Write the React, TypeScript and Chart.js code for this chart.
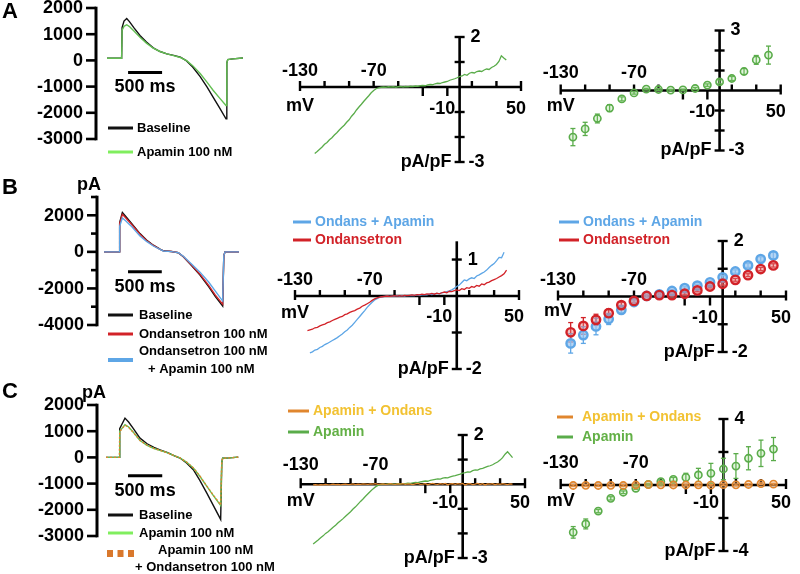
import React, { useEffect, useRef } from "react";
import { Chart, registerables } from "chart.js";
Chart.register(...registerables);

const W = 800;
const H = 574;
const FONT = '"Liberation Sans", Arial, Helvetica, sans-serif';

// ---------------- data ----------------
// current traces (time in ms, current in pA)
const TRACE_A_T = [0, 215, 222, 250, 290, 330, 400, 485, 580, 680, 780, 880, 980, 1080, 1170, 1260, 1370, 1470, 1560, 1660, 1750, 1762, 1775, 1850, 2000];
const TRACE_A_BASELINE = [80, 80, 1250, 1500, 1600, 1480, 1230, 950, 700, 480, 340, 250, 190, 120, -20, -250, -620, -1010, -1400, -1830, -2230, -100, 30, 60, 90];
const TRACE_A_APAMIN = [80, 80, 1150, 1300, 1360, 1290, 1110, 880, 660, 470, 340, 250, 180, 110, -10, -200, -500, -830, -1140, -1450, -1720, -100, 30, 60, 90];

const TRACE_B_T = [0, 227, 232, 272, 320, 400, 533, 630, 731, 830, 879, 1000, 1100, 1175, 1300, 1422, 1550, 1650, 1758, 1775, 1793, 2000];
const TRACE_B_BASELINE = [0, 0, 1600, 2150, 1950, 1600, 1000, 650, 364, 150, 60, 20, -50, -270, -760, -1270, -1900, -2450, -2960, -200, 0, 0];
const TRACE_B_ONDANSETRON = [0, 0, 1550, 2050, 1870, 1540, 960, 620, 350, 140, 55, 20, -45, -255, -730, -1220, -1830, -2370, -2860, -200, 0, 0];
const TRACE_B_ONDANS_APAMIN = [0, 0, 1400, 1850, 1700, 1420, 870, 570, 320, 130, 50, 15, -40, -240, -680, -1110, -1650, -2150, -2690, -200, 0, 0];

const TRACE_C_T = [0, 195, 200, 277, 330, 400, 496, 600, 700, 788, 900, 1000, 1080, 1180, 1275, 1370, 1470, 1570, 1674, 1690, 1703, 1800, 1931];
const TRACE_C_BASELINE = [0, 0, 1100, 1500, 1350, 1100, 734, 520, 380, 290, 180, 60, -25, -220, -470, -880, -1354, -1850, -2367, -200, -30, -20, 10];
const TRACE_C_APAMIN = [0, 0, 1000, 1250, 1160, 960, 645, 460, 340, 266, 170, 60, -20, -190, -405, -720, -1100, -1470, -1835, -200, -30, -20, 10];
const TRACE_C_APAMIN_ONDANS = [0, 0, 980, 1230, 1150, 950, 650, 465, 345, 270, 172, 62, -18, -185, -400, -710, -1090, -1450, -1810, -200, -30, -20, 10];

const TRACE_A_YTICKS = [2000, 1000, 0, -1000, -2000, -3000];
const TRACE_B_YTICKS = [2000, 0, -2000, -4000];
const TRACE_B_YMINOR = [3000, 1000, -1000, -3000];
const TRACE_C_YTICKS = [2000, 1000, 0, -1000, -2000, -3000];
const SCALE_BAR_MS = 500;

// ramp I-V traces (mV, pA/pF)
const RAMP_MV = [-120, -118, -116, -114, -112, -110, -108, -106, -104, -102, -100, -98, -96, -94, -92, -90, -88, -86, -84, -82, -80, -78, -76, -74, -72, -70, -68, -66, -64, -62, -60, -58, -56, -54, -52, -50, -48, -46, -44, -42, -40, -38, -36, -34, -32, -30, -28, -26, -24, -22, -20, -18, -16, -14, -12, -10, -8, -6, -4, -2, 0, 2, 4, 6, 8, 10, 12, 14, 16, 18, 20, 22, 24, 26, 28, 30, 32, 34, 36, 38, 40];

const RAMP_A_APAMIN = [null,
  -2.66, -2.58, -2.49, -2.40, -2.29, -2.22, -2.11, -2.03, -1.92, -1.83,
  -1.72, -1.62, -1.53, -1.41, -1.31, -1.17, -1.06, -0.92, -0.80, -0.69,
  -0.57, -0.46, -0.35, -0.23, -0.14, -0.07, -0.03, -0.01, 0.00, -0.01,
  0.01, 0.00, 0.01, -0.01, 0.01, 0.02, 0.00, 0.02, 0.01, 0.03,
  0.02, 0.04, 0.03, 0.05, 0.06, 0.05, 0.08, 0.10, 0.09, 0.13,
  0.15, 0.14, 0.18, 0.20, 0.22, 0.27, 0.30, 0.33, 0.37, 0.42,
  0.44, 0.50, 0.47, 0.55, 0.58, 0.56, 0.62, 0.64, 0.62, 0.68,
  0.72, 0.70, 0.78, 0.83, 0.90, 1.02, 1.25, 1.16, 1.08,
  null];

const RAMP_B_ONDANS_APAMIN = [null,
  -1.56, -1.53, -1.48, -1.46, -1.41, -1.38, -1.33, -1.30, -1.26, -1.22,
  -1.18, -1.14, -1.09, -1.04, -0.98, -0.93, -0.86, -0.80, -0.72, -0.64,
  -0.56, -0.48, -0.40, -0.31, -0.24, -0.17, -0.11, -0.07, -0.04, -0.02,
  -0.01, 0.00, -0.01, 0.00, 0.00, 0.01, 0.00, 0.01, 0.00, 0.02,
  0.01, 0.02, 0.01, 0.03, 0.02, 0.03, 0.04, 0.03, 0.05, 0.04,
  0.06, 0.07, 0.06, 0.09, 0.10, 0.12, 0.14, 0.17, 0.21, 0.26,
  0.30, 0.37, 0.44, 0.42, 0.47, 0.50, 0.48, 0.55, 0.58, 0.62,
  0.66, 0.71, 0.78, 0.84, 0.89, 0.97, 1.06, 1.05, 1.20,
  null];

const RAMP_B_ONDANSETRON = [
  -0.95, -0.93, -0.91, -0.87, -0.86, -0.82, -0.79, -0.77, -0.73, -0.71, -0.67,
  -0.64, -0.61, -0.58, -0.56, -0.51, -0.49, -0.45, -0.42, -0.40, -0.36,
  -0.33, -0.28, -0.25, -0.21, -0.17, -0.12, -0.08, -0.05, -0.03, -0.02,
  -0.01, 0.00, -0.01, 0.00, 0.01, 0.00, 0.01, 0.00, 0.02, 0.01,
  0.02, 0.03, 0.02, 0.04, 0.03, 0.05, 0.04, 0.06, 0.05, 0.07,
  0.05, 0.08, 0.06, 0.09, 0.11, 0.09, 0.13, 0.12, 0.15, 0.17,
  0.15, 0.20, 0.18, 0.23, 0.21, 0.26, 0.24, 0.29, 0.27, 0.33,
  0.31, 0.36, 0.38, 0.42, 0.45, 0.48, 0.52, 0.56, 0.61, 0.71];

const RAMP_C_APAMIN = [
  -2.43, -2.35, -2.27, -2.18, -2.10, -2.00, -1.93, -1.84, -1.75, -1.67, -1.57,
  -1.49, -1.40, -1.30, -1.21, -1.12, -1.01, -0.92, -0.81, -0.70, -0.60,
  -0.49, -0.39, -0.29, -0.19, -0.11, -0.05, -0.02, 0.00, -0.01, 0.01,
  0.00, 0.01, 0.00, 0.02, 0.01, 0.02, 0.02, 0.04, 0.03, 0.05,
  0.07, 0.06, 0.09, 0.11, 0.13, 0.12, 0.16, 0.18, 0.20, 0.22,
  0.21, 0.25, 0.27, 0.26, 0.30, 0.33, 0.35, 0.38, 0.41, 0.45,
  0.47, 0.50, 0.49, 0.55, 0.58, 0.57, 0.62, 0.64, 0.68, 0.72,
  0.75, 0.79, 0.85, 0.90, 0.98, 1.08, 1.22, 1.32, 1.20, 1.08];

const RAMP_C_APAMIN_ONDANS = [
  -0.03, -0.02, -0.04, -0.02, -0.03, -0.01, -0.03, -0.02, 0.00, -0.02, -0.01,
  -0.03, -0.01, 0.00, -0.02, -0.01, 0.01, -0.02, 0.00, -0.01, 0.01,
  0.00, -0.01, 0.01, 0.00, 0.02, -0.01, 0.00, 0.01, -0.01, 0.00,
  0.02, 0.00, -0.01, 0.01, 0.00, 0.02, -0.01, 0.01, 0.00, -0.02,
  0.01, 0.03, -0.01, 0.00, 0.02, -0.02, 0.01, 0.03, 0.00, -0.01,
  0.02, 0.00, 0.03, -0.02, 0.01, 0.02, -0.01, 0.02, 0.00, 0.03,
  -0.03, 0.01, 0.02, -0.02, 0.00, 0.03, -0.01, 0.02, -0.03, 0.01,
  0.00, 0.02, -0.02, 0.01, -0.01, 0.02, 0.00, -0.02, 0.01, 0.00];

// step I-V (mean ± SEM)
const STEP_MV = [-120, -110, -100, -90, -80, -70, -60, -50, -40, -30, -20, -10, 0, 10, 20, 30, 40];
const STEP_A_APAMIN = [-2.33, -1.92, -1.40, -0.88, -0.42, -0.12, 0.07, 0.05, 0.02, 0.03, 0.10, 0.27, 0.43, 0.60, 0.95, 1.53, 1.77];
const STEP_A_APAMIN_SEM = [0.43, 0.33, 0.22, 0.17, 0.10, 0.06, 0.04, 0.04, 0.04, 0.04, 0.05, 0.06, 0.10, 0.10, 0.15, 0.22, 0.45];
const STEP_B_ONDANS_APAMIN = [-1.69, -1.39, -1.08, -0.81, -0.48, -0.20, 0.02, 0.08, 0.20, 0.30, 0.39, 0.51, 0.69, 0.90, 1.12, 1.35, 1.48];
const STEP_B_ONDANS_APAMIN_SEM = [0.35, 0.30, 0.30, 0.20, 0.12, 0.08, 0.05, 0.05, 0.05, 0.05, 0.05, 0.05, 0.06, 0.06, 0.07, 0.08, 0.13];
const STEP_B_ONDANSETRON = [-1.29, -1.06, -0.84, -0.60, -0.31, -0.16, 0.02, 0.05, 0.05, 0.10, 0.22, 0.36, 0.46, 0.60, 0.77, 0.99, 1.12];
const STEP_B_ONDANSETRON_SEM = [0.35, 0.30, 0.20, 0.15, 0.10, 0.06, 0.04, 0.04, 0.04, 0.04, 0.05, 0.05, 0.05, 0.05, 0.05, 0.06, 0.06];
const STEP_C_APAMIN = [-2.87, -2.36, -1.58, -0.81, -0.44, -0.20, 0.04, 0.20, 0.34, 0.46, 0.61, 0.71, 0.97, 1.15, 1.62, 1.92, 2.18];
const STEP_C_APAMIN_SEM = [0.35, 0.30, 0.10, 0.10, 0.08, 0.06, 0.05, 0.08, 0.12, 0.25, 0.40, 0.60, 0.65, 0.75, 0.70, 0.80, 0.70];
const STEP_C_APAMIN_ONDANS = [-0.03, -0.02, -0.03, -0.02, -0.03, 0.00, 0.02, 0.01, 0.00, 0.00, 0.01, -0.01, 0.02, 0.01, 0.03, 0.08, 0.05];
const STEP_C_APAMIN_ONDANS_SEM = [0.05, 0.05, 0.05, 0.05, 0.05, 0.05, 0.05, 0.05, 0.05, 0.05, 0.05, 0.05, 0.05, 0.05, 0.05, 0.05, 0.05];

const IV_X_TICKS = [-130, -110, -90, -70, -50, -30, -10, 10, 30, 50];
const IV_X_LABELS = [-130, -70, -10, 50];
const IV_X_UNIT = "mV";
const IV_Y_UNIT = "pA/pF";
const TRACE_Y_UNIT = "pA";

const LBL_BASELINE = "Baseline";
const LBL_APAMIN_100 = "Apamin 100 nM";
const LBL_ONDANSETRON_100 = "Ondansetron 100 nM";
const LBL_PLUS_APAMIN_100 = "+ Apamin 100 nM";
const LBL_PLUS_ONDANSETRON_100 = "+ Ondansetron 100 nM";
const LBL_ONDANS_APAMIN = "Ondans + Apamin";
const LBL_ONDANSETRON = "Ondansetron";
const LBL_APAMIN_ONDANS = "Apamin + Ondans";
const LBL_APAMIN = "Apamin";

// ---------------- colours ----------------
const BLACK = "#111111";
const GREEN_TRACE = "#63bf52";
const GREEN_LEGEND = "#80ee5e";
const GREEN_IV = "#5aac4a";
const GREEN_TEXT = "#63b046";
const BLUE = "#5ea6e6";
const RED = "#d22228";
const ORANGE = "#e0862e";
const GOLD = "#f2c232";

// ---------------- helpers ----------------
const zip = (xs: number[], ys: (number | null)[]) => xs.map((x, i) => ({ x, y: ys[i] }));

function txt(ctx: CanvasRenderingContext2D, s: string, x: number, y: number, size: number, align: CanvasTextAlign = "left", color = "#000") {
  ctx.save();
  ctx.font = `bold ${size}px ${FONT}`;
  ctx.fillStyle = color;
  ctx.textAlign = align;
  ctx.textBaseline = "middle";
  ctx.fillText(s, x, y);
  ctx.restore();
}

function seg(ctx: CanvasRenderingContext2D, x1: number, y1: number, x2: number, y2: number, w: number, color = "#000", cap: CanvasLineCap = "butt") {
  ctx.save();
  ctx.strokeStyle = color;
  ctx.lineWidth = w;
  ctx.lineCap = cap;
  ctx.beginPath();
  ctx.moveTo(x1, y1);
  ctx.lineTo(x2, y2);
  ctx.stroke();
  ctx.restore();
}

function drawErrorBars(chart: any) {
  const { ctx } = chart;
  const xs = chart.scales.x;
  const ys = chart.scales.y;
  chart.data.datasets.forEach((ds: any) => {
    if (!ds.errorBars) return;
    ds.data.forEach((p: any, j: number) => {
      const e = ds.errorBars[j];
      if (p.y == null || !e) return;
      const x = xs.getPixelForValue(p.x);
      const yt = ys.getPixelForValue(p.y + e);
      const yb = ys.getPixelForValue(p.y - e);
      seg(ctx, x, yt, x, yb, 1.3, ds.borderColor);
      seg(ctx, x - 2.5, yt, x + 2.5, yt, 1.3, ds.borderColor);
      seg(ctx, x - 2.5, yb, x + 2.5, yb, 1.3, ds.borderColor);
    });
  });
}

function drawTraceAxes(chart: any, o: { major: number[]; minor: number[]; gap: number; unit?: string; unitDx?: number }) {
  const { ctx } = chart;
  const ys = chart.scales.y;
  const axX = chart.chartArea.left - o.gap;
  const yT = ys.getPixelForValue(ys.max);
  const yB = ys.getPixelForValue(ys.min);
  seg(ctx, axX, yT - 1.3, axX, yB + 1.3, 3);
  o.major.forEach((v) => {
    const y = ys.getPixelForValue(v);
    seg(ctx, axX - 10, y, axX, y, 2.6);
    txt(ctx, String(v), axX - 13, y + 0.5, 18, "right");
  });
  o.minor.forEach((v) => {
    const y = ys.getPixelForValue(v);
    seg(ctx, axX - 6, y, axX, y, 2.6);
  });
  if (o.unit) txt(ctx, o.unit, axX - (o.unitDx ?? 18), yT - 12, 18, "left");
}

function drawScaleBar(chart: any, t0: number, yv: number) {
  const { ctx } = chart;
  const xs = chart.scales.x;
  const ys = chart.scales.y;
  const x1 = xs.getPixelForValue(t0);
  const x2 = xs.getPixelForValue(t0 + SCALE_BAR_MS);
  const y = ys.getPixelForValue(yv);
  seg(ctx, x1, y, x2, y, 3);
  txt(ctx, `${SCALE_BAR_MS} ms`, (x1 + x2) / 2, y + 15, 18, "center");
}

function drawIVAxes(chart: any, o: { yTicks: number[]; top: number; above: number; below: number; mv: number }) {
  const { ctx } = chart;
  const xs = chart.scales.x;
  const ys = chart.scales.y;
  const ax = xs.getPixelForValue(0);
  const ay = ys.getPixelForValue(0);
  const xL = xs.getPixelForValue(xs.min);
  const xR = xs.getPixelForValue(xs.max);
  const yT = ys.getPixelForValue(ys.max);
  const yB = ys.getPixelForValue(ys.min);
  seg(ctx, xL, ay, xR, ay, 2.6);
  seg(ctx, ax, yT, ax, yB, 2.6);
  IV_X_TICKS.forEach((v) => {
    const x = xs.getPixelForValue(v);
    if (v === xs.min || v === xs.max) seg(ctx, x, ay - 6, x, ay + 4, 2.4);
    else if (v > -40 && v < 0) seg(ctx, x, ay, x, ay + 9, 2.4);
    else seg(ctx, x, ay - 6, x, ay, 2.4);
  });
  o.yTicks.forEach((v) => {
    const y = ys.getPixelForValue(v);
    seg(ctx, ax - 5, y, ax + 5, y, 2.4);
  });
  IV_X_LABELS.forEach((v) => {
    const x = xs.getPixelForValue(v);
    if (v < -40) txt(ctx, String(v), x, ay - o.above, 18, "center");
    else txt(ctx, String(v), x - 5, ay + o.below, 18, "center");
  });
  txt(ctx, IV_X_UNIT, xL - 14, ay + o.mv, 18, "left");
  txt(ctx, String(o.top), ax + 11, ys.getPixelForValue(o.top), 18, "left");
  txt(ctx, String(ys.min), ax + 9, yB, 18, "left");
  txt(ctx, IV_Y_UNIT, ax - 8, yB, 18, "right");
}

function legendItem(ctx: CanvasRenderingContext2D, x1: number, x2: number, y: number, color: string, w: number, label: string, tx: number, size: number, textColor = "#000") {
  seg(ctx, x1, y, x2, y, w, color);
  txt(ctx, label, tx, y, size, "left", textColor);
}

const lineDs = (data: any[], color: string, width = 1.4, extra: any = {}) => ({
  data,
  borderColor: color,
  backgroundColor: color,
  borderWidth: width,
  pointRadius: 0,
  tension: 0,
  clip: false,
  ...extra,
});

const pointDs = (data: any[], err: number[], color: string, fill: string, radius = 3.6, bw = 1.6) => ({
  data,
  errorBars: err,
  showLine: false,
  borderColor: color,
  backgroundColor: fill,
  pointBorderColor: color,
  pointBackgroundColor: fill,
  pointRadius: radius,
  pointBorderWidth: bw,
  clip: false,
});

// ---------------- panels ----------------
type Spec = {
  box: { left: number; right: number; top: number; bottom: number };
  x: [number, number];
  y: [number, number];
  datasets: any[];
  under?: (chart: any) => void;
  over?: (chart: any) => void;
};

const SPECS: Spec[] = [
  // A1 traces
  {
    box: { left: 107, right: 243, top: 8, bottom: 139 },
    x: [0, 2000],
    y: [-3000, 2000],
    datasets: [
      lineDs(zip(TRACE_A_T, TRACE_A_APAMIN), GREEN_TRACE),
      lineDs(zip(TRACE_A_T, TRACE_A_BASELINE), BLACK),
    ],
    under: (c) => drawTraceAxes(c, { major: TRACE_A_YTICKS, minor: [], gap: 11 }),
    over: (c) => {
      const ctx = c.ctx;
      drawScaleBar(c, 310, -460);
      legendItem(ctx, 108, 133, 128, BLACK, 3, LBL_BASELINE, 137, 13);
      legendItem(ctx, 108, 133, 152, GREEN_LEGEND, 3, LBL_APAMIN_100, 137, 13);
      txt(ctx, "A", 2, 12, 22, "left");
    },
  },
  // A2 ramp IV
  {
    box: { left: 300, right: 521, top: 37, bottom: 162 },
    x: [-130, 50],
    y: [-3, 2],
    datasets: [lineDs(zip(RAMP_MV, RAMP_A_APAMIN), GREEN_IV, 1.3)],
    under: (c) => drawIVAxes(c, { yTicks: [2, 1, -1, -2, -3], top: 2, above: 16, below: 22, mv: 19 }),
  },
  // A3 step IV
  {
    box: { left: 560.7, right: 780.7, top: 30.5, bottom: 150.5 },
    x: [-130, 50],
    y: [-3, 3],
    datasets: [pointDs(zip(STEP_MV, STEP_A_APAMIN), STEP_A_APAMIN_SEM, GREEN_IV, "rgba(140,210,120,0.25)")],
    under: (c) => drawIVAxes(c, { yTicks: [3, 2, 1, -1, -2, -3], top: 3, above: 17.5, below: 22, mv: 16 }),
  },
  // B1 traces
  {
    box: { left: 104, right: 239, top: 197, bottom: 325 },
    x: [0, 2000],
    y: [-4000, 3000],
    datasets: [
      lineDs(zip(TRACE_B_T, TRACE_B_ONDANS_APAMIN), BLUE),
      lineDs(zip(TRACE_B_T, TRACE_B_ONDANSETRON), RED),
      lineDs(zip(TRACE_B_T, TRACE_B_BASELINE), BLACK),
    ],
    under: (c) => drawTraceAxes(c, { major: TRACE_B_YTICKS, minor: TRACE_B_YMINOR, gap: 7, unit: TRACE_Y_UNIT, unitDx: 20 }),
    over: (c) => {
      const ctx = c.ctx;
      drawScaleBar(c, 356, -1090);
      legendItem(ctx, 108, 133, 315, BLACK, 3, LBL_BASELINE, 139, 13);
      legendItem(ctx, 108, 133, 334, RED, 3, LBL_ONDANSETRON_100, 139, 13);
      seg(ctx, 108, 360, 133, 360, 4, BLUE);
      txt(ctx, LBL_ONDANSETRON_100, 139, 351, 13);
      txt(ctx, LBL_PLUS_APAMIN_100, 148, 369, 13);
      txt(ctx, "B", 2, 188, 22, "left");
    },
  },
  // B2 ramp IV
  {
    box: { left: 295, right: 519, top: 241.3, bottom: 369 },
    x: [-130, 50],
    y: [-2, 1.5],
    datasets: [
      lineDs(zip(RAMP_MV, RAMP_B_ONDANSETRON), RED, 1.3),
      lineDs(zip(RAMP_MV, RAMP_B_ONDANS_APAMIN), BLUE, 1.3),
    ],
    under: (c) => drawIVAxes(c, { yTicks: [1, -1, -2], top: 1, above: 16, below: 21, mv: 17 }),
    over: (c) => {
      const ctx = c.ctx;
      legendItem(ctx, 293, 311, 222, BLUE, 3, LBL_ONDANS_APAMIN, 315, 14, BLUE);
      legendItem(ctx, 293, 311, 240, RED, 3, LBL_ONDANSETRON, 315, 14, RED);
    },
  },
  // B3 step IV
  {
    box: { left: 558, right: 786, top: 241, bottom: 352 },
    x: [-130, 50],
    y: [-2, 2],
    datasets: [
      pointDs(zip(STEP_MV, STEP_B_ONDANSETRON), STEP_B_ONDANSETRON_SEM, RED, "rgba(230,120,120,0.45)", 4.2, 2.4),
      pointDs(zip(STEP_MV, STEP_B_ONDANS_APAMIN), STEP_B_ONDANS_APAMIN_SEM, BLUE, "rgba(150,195,240,0.7)", 4.2, 2.4),
    ],
    under: (c) => drawIVAxes(c, { yTicks: [2, 1, -1, -2], top: 2, above: 16.5, below: 21.5, mv: 15 }),
    over: (c) => {
      const ctx = c.ctx;
      legendItem(ctx, 559, 579, 222, BLUE, 3, LBL_ONDANS_APAMIN, 583, 14, BLUE);
      legendItem(ctx, 559, 579, 240, RED, 3, LBL_ONDANSETRON, 583, 14, RED);
    },
  },
  // C1 traces
  {
    box: { left: 106, right: 243, top: 405, bottom: 536 },
    x: [0, 2000],
    y: [-3000, 2000],
    datasets: [
      lineDs(zip(TRACE_C_T, TRACE_C_APAMIN_ONDANS), ORANGE, 1.4, { borderDash: [2, 2] }),
      lineDs(zip(TRACE_C_T, TRACE_C_APAMIN), GREEN_TRACE),
      lineDs(zip(TRACE_C_T, TRACE_C_BASELINE), BLACK),
    ],
    under: (c) => drawTraceAxes(c, { major: TRACE_C_YTICKS, minor: [], gap: 9, unit: TRACE_Y_UNIT, unitDx: 15 }),
    over: (c) => {
      const ctx = c.ctx;
      drawScaleBar(c, 321, -696);
      legendItem(ctx, 108, 133, 515, BLACK, 3, LBL_BASELINE, 139, 13);
      legendItem(ctx, 108, 133, 533, GREEN_LEGEND, 3, LBL_APAMIN_100, 139, 13);
      ctx.save();
      ctx.fillStyle = "#d9782c";
      [107, 117.5, 128].forEach((x) => ctx.fillRect(x, 550, 6, 7));
      ctx.restore();
      txt(ctx, LBL_APAMIN_100, 158, 550, 13);
      txt(ctx, LBL_PLUS_ONDANSETRON_100, 135, 567, 13);
      txt(ctx, "C", 2, 392, 22, "left");
    },
  },
  // C2 ramp IV
  {
    box: { left: 300.7, right: 525, top: 435, bottom: 558 },
    x: [-130, 50],
    y: [-3, 2],
    datasets: [
      lineDs(zip(RAMP_MV, RAMP_C_APAMIN_ONDANS), ORANGE, 1.3),
      lineDs(zip(RAMP_MV, RAMP_C_APAMIN), GREEN_IV, 1.3),
    ],
    under: (c) => drawIVAxes(c, { yTicks: [2, 1, -1, -2, -3], top: 2, above: 19, below: 19, mv: 17 }),
    over: (c) => {
      const ctx = c.ctx;
      legendItem(ctx, 288, 309, 411, ORANGE, 3, LBL_APAMIN_ONDANS, 313, 14, GOLD);
      legendItem(ctx, 288, 309, 432, GREEN_IV, 3, LBL_APAMIN, 313, 14, GREEN_TEXT);
    },
  },
  // C3 step IV
  {
    box: { left: 560.7, right: 786, top: 419, bottom: 551 },
    x: [-130, 50],
    y: [-4, 4],
    datasets: [
      pointDs(zip(STEP_MV, STEP_C_APAMIN_ONDANS), STEP_C_APAMIN_ONDANS_SEM, ORANGE, "rgba(240,170,110,0.35)"),
      pointDs(zip(STEP_MV, STEP_C_APAMIN), STEP_C_APAMIN_SEM, GREEN_IV, "rgba(140,210,120,0.25)"),
    ],
    under: (c) => drawIVAxes(c, { yTicks: [4, 2, -2, -4], top: 4, above: 21.5, below: 18.5, mv: 16.5 }),
    over: (c) => {
      const ctx = c.ctx;
      legendItem(ctx, 557, 573, 417, ORANGE, 3, LBL_APAMIN_ONDANS, 582, 14, GOLD);
      legendItem(ctx, 557, 573, 437, GREEN_IV, 3, LBL_APAMIN, 582, 14, GREEN_TEXT);
    },
  },
];

function makeChart(canvas: HTMLCanvasElement, spec: Spec) {
  const overlay = {
    id: "panelOverlay",
    beforeDatasetsDraw(chart: any) {
      spec.under && spec.under(chart);
      drawErrorBars(chart);
    },
    afterDatasetsDraw(chart: any) {
      spec.over && spec.over(chart);
    },
  };
  return new Chart(canvas, {
    type: "line",
    data: { datasets: spec.datasets },
    options: {
      animation: false,
      responsive: false,
      maintainAspectRatio: false,
      devicePixelRatio: 1,
      events: [],
      layout: {
        padding: {
          left: spec.box.left,
          right: W - spec.box.right,
          top: spec.box.top,
          bottom: H - spec.box.bottom,
        },
      },
      scales: {
        x: { type: "linear", min: spec.x[0], max: spec.x[1], display: false },
        y: { type: "linear", min: spec.y[0], max: spec.y[1], display: false },
      },
      plugins: { legend: { display: false }, tooltip: { enabled: false } },
    },
    plugins: [overlay],
  } as any);
}

function Panel({ spec }: { spec: Spec }) {
  const ref = useRef<HTMLCanvasElement>(null);
  useEffect(() => {
    const chart = makeChart(ref.current as HTMLCanvasElement, spec);
    return () => chart.destroy();
  }, [spec]);
  return (
    <canvas
      ref={ref}
      width={W}
      height={H}
      style={{ position: "absolute", left: 0, top: 0, width: W, height: H }}
    />
  );
}

export default function App() {
  return (
    <div style={{ position: "fixed", left: 0, top: 0, width: W, height: H, background: "#fff", overflow: "hidden" }}>
      {SPECS.map((s, i) => (
        <Panel key={i} spec={s} />
      ))}
    </div>
  );
}
